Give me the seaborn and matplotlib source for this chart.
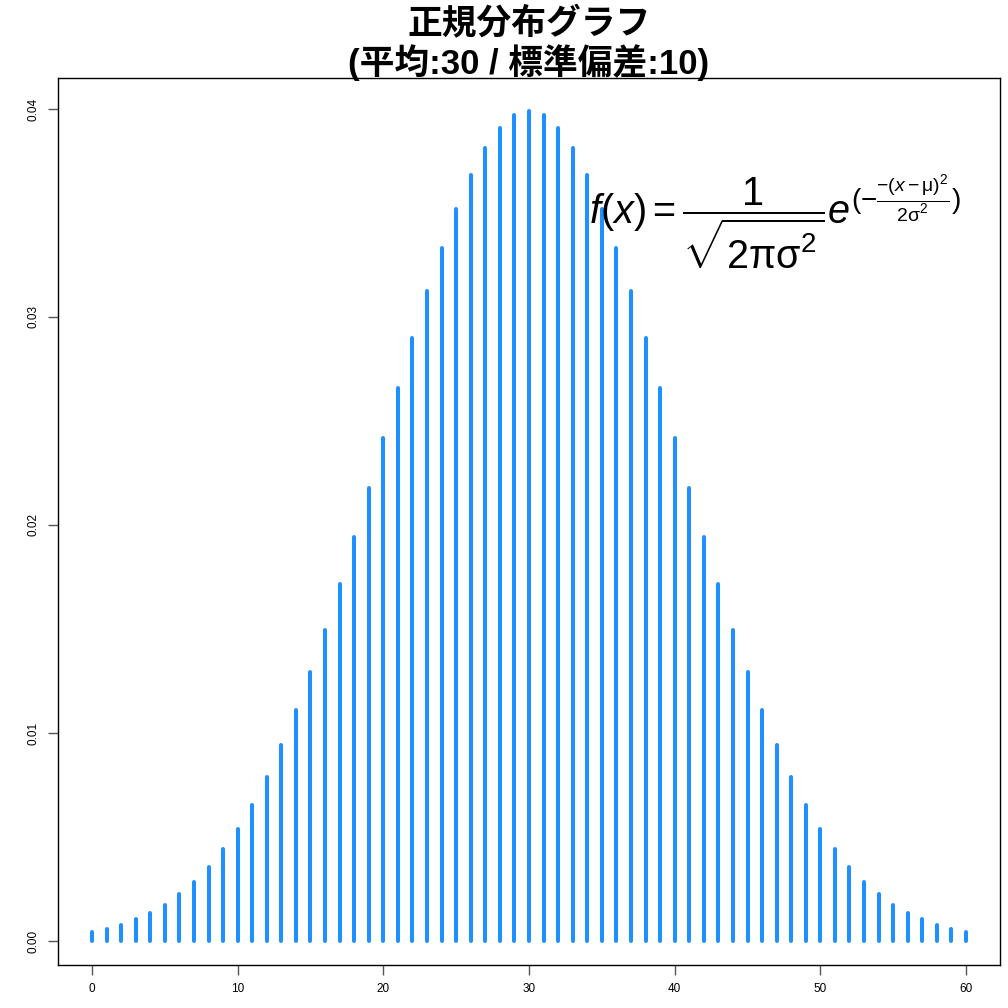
import matplotlib
matplotlib.use("Agg")
import matplotlib.pyplot as plt
import seaborn as sns

x_values = list(range(0, 61))
density = [
    0.00044, 0.00060, 0.00079, 0.00104, 0.00136, 0.00175, 0.00224, 0.00283,
    0.00355, 0.00440, 0.00540, 0.00656, 0.00790, 0.00940, 0.01109, 0.01295,
    0.01497, 0.01714, 0.01942, 0.02179, 0.02420, 0.02661, 0.02897, 0.03123,
    0.03332, 0.03521, 0.03683, 0.03814, 0.03910, 0.03970, 0.03989,
    0.03970, 0.03910, 0.03814, 0.03683, 0.03521, 0.03332, 0.03123, 0.02897,
    0.02661, 0.02420, 0.02179, 0.01942, 0.01714, 0.01497, 0.01295, 0.01109,
    0.00940, 0.00790, 0.00656, 0.00540, 0.00440, 0.00355, 0.00283, 0.00224,
    0.00175, 0.00136, 0.00104, 0.00079, 0.00060, 0.00044,
]
x_ticks = [0, 10, 20, 30, 40, 50, 60]
y_ticks = [0.00, 0.01, 0.02, 0.03, 0.04]
title_text = "正規分布グラフ\n(平均:30 / 標準偏差:10)"
formula = (r"$f(x)=\dfrac{1}{\sqrt{2\mathrm{\pi}\mathrm{\sigma}^2}}"
           r"e^{(-\frac{-(x-\mathrm{\mu})^2}{2\mathrm{\sigma}^2})}$")

sns.set_theme(style="ticks")
plt.rcParams['font.family'] = ['Liberation Sans', 'Noto Sans CJK JP', 'DejaVu Sans']
plt.rcParams['mathtext.fontset'] = 'custom'
plt.rcParams['mathtext.rm'] = 'Liberation Sans'
plt.rcParams['mathtext.it'] = 'Liberation Sans:italic'
plt.rcParams['mathtext.bf'] = 'Liberation Sans:bold'
plt.rcParams['text.color'] = 'black'
plt.rcParams['xtick.color'] = '#555555'
plt.rcParams['ytick.color'] = '#555555'
plt.rcParams['xtick.labelcolor'] = 'black'
plt.rcParams['ytick.labelcolor'] = 'black'

fig = plt.figure(figsize=(10.08, 10.08), dpi=100)
ax = fig.add_axes([58/1008, 43/1008, 942/1008, 887/1008])

ax.vlines(x_values, 0, density, colors="#1E90FF", linewidth=2.9, capstyle='round')

ax.set_xlim(-2.334, 62.334)
ax.set_ylim(-0.001154, 0.04149)
ax.set_xticks(x_ticks)
ax.set_xticklabels([str(v) for v in x_ticks], fontsize=8.5, color='black')
ax.set_yticks(y_ticks)
ax.set_yticklabels([f"{v:.2f}" for v in y_ticks], fontsize=8.5, rotation=90, va='center', color='black')
ax.tick_params(axis='both', length=7, width=1, color='#555555', pad=6)
for s in ax.spines.values():
    s.set_visible(True)
    s.set_color('black')
    s.set_linewidth(1)

fig.text(529/1008, 1 - 44/1008, title_text, ha='center', va='center', fontsize=25,
         fontweight='bold', color='black', family=['Liberation Sans', 'Noto Sans CJK JP'],
         linespacing=1.1)

ax.text(0.761, 0.838, formula, transform=ax.transAxes, ha='center', va='center',
        fontsize=28.5, color='black')

fig.savefig("out.png", dpi=100)
